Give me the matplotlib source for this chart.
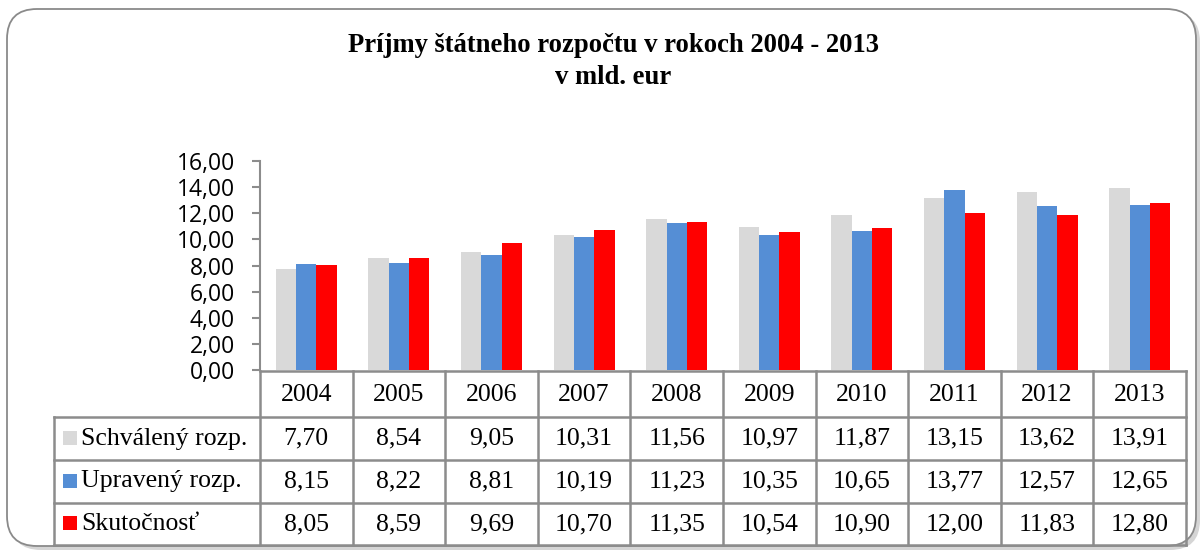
import matplotlib
matplotlib.use("Agg")
import matplotlib.pyplot as plt
from matplotlib.patches import FancyBboxPatch, Rectangle
import numpy as np

years = ["2004", "2005", "2006", "2007", "2008", "2009", "2010", "2011", "2012", "2013"]
series_names = ["Schválený rozp.", "Upravený rozp.", "Skutočnosť"]
schvaleny = [7.70, 8.54, 9.05, 10.31, 11.56, 10.97, 11.87, 13.15, 13.62, 13.91]
upraveny = [8.15, 8.22, 8.81, 10.19, 11.23, 10.35, 10.65, 13.77, 12.57, 12.65]
skutocnost = [8.05, 8.59, 9.69, 10.70, 11.35, 10.54, 10.90, 12.00, 11.83, 12.80]
yticks = [0, 2, 4, 6, 8, 10, 12, 14, 16]
title_lines = ["Príjmy štátneho rozpočtu v rokoch 2004 - 2013", "v mld. eur"]

colors = ["#D9D9D9", "#558ED5", "#FF0000"]
values = [schvaleny, upraveny, skutocnost]

W, H = 1203, 551
fig = plt.figure(figsize=(W / 100, H / 100), dpi=100)

# background / frame overlay axes in pixel coords
bg = fig.add_axes([0, 0, 1, 1])
bg.set_xlim(0, W)
bg.set_ylim(H, 0)
bg.axis("off")
shadow = FancyBboxPatch((11, 12), 1189, 538, boxstyle="round,pad=0,rounding_size=30",
                        fc="#c4c4c4", ec="none", alpha=0.7, zorder=0)
bg.add_patch(shadow)
frame = FancyBboxPatch((7, 9), 1189, 537, boxstyle="round,pad=0,rounding_size=30",
                       fc="white", ec="#8a8a8a", lw=1.3, zorder=1)
bg.add_patch(frame)

bg.text(613, 45, title_lines[0], ha="center", va="center", fontsize=19.2, fontweight="bold",
        family="Liberation Serif", zorder=5)
bg.text(613, 77, title_lines[1], ha="center", va="center", fontsize=19.2, fontweight="bold",
        family="Liberation Serif", zorder=5)

# plot axes
x0, x1 = 260, 1186
ytop, ybot = 161, 370
ax = fig.add_axes([x0 / W, 1 - ybot / H, (x1 - x0) / W, (ybot - ytop) / H])
ax.patch.set_alpha(0)
n = len(years)
x = np.arange(n)
bw = 0.22
for i, (vals, c) in enumerate(zip(values, colors)):
    ax.bar(x + (i - 1) * bw, vals, width=bw, color=c, zorder=3)
ax.set_xlim(-0.5, n - 0.5)
ax.set_ylim(0, 16)
ax.set_yticks(yticks)
ax.set_yticklabels([f"{v:.2f}".replace(".", ",") for v in yticks],
                   fontsize=16.5, family="Open Sans")
ax.set_xticks([])
for s in ["top", "right", "bottom"]:
    ax.spines[s].set_visible(False)
ax.spines["left"].set_color("#8c8c8c")
ax.spines["left"].set_linewidth(1.5)
ax.tick_params(axis="y", length=6, color="#8c8c8c", width=1.5, pad=12)

# data table
col_w = (x1 - x0) / n
row_edges = [371, 417, 460, 503, 545]
lx = 54
lc = "#8c8c8c"
lw = 1.8
bg.plot([x0, x1], [row_edges[0], row_edges[0]], color=lc, lw=lw, zorder=4)
for y in row_edges[1:]:
    bg.plot([lx, x1], [y, y], color=lc, lw=lw, zorder=4)
for j in range(n + 1):
    xx = x0 + j * col_w
    bg.plot([xx, xx], [row_edges[0], row_edges[-1]], color=lc, lw=lw, zorder=4)
bg.plot([lx, lx], [row_edges[1], row_edges[-1]], color=lc, lw=lw, zorder=4)

tfont = dict(family="Liberation Serif", fontsize=18.5, zorder=5)
for j, yr in enumerate(years):
    cx = x0 + (j + 0.5) * col_w
    bg.text(cx, (row_edges[0] + row_edges[1]) / 2 + 1, yr, ha="center", va="center", **tfont)
for r, (name, vals, c) in enumerate(zip(series_names, values, colors)):
    cy = (row_edges[r + 1] + row_edges[r + 2]) / 2
    bg.add_patch(Rectangle((63, cy - 8), 14, 14, fc=c, ec="none", zorder=5))
    bg.text(81, cy, name, ha="left", va="center", **tfont)
    for j, v in enumerate(vals):
        cx = x0 + (j + 0.5) * col_w
        bg.text(cx, cy, f"{v:.2f}".replace(".", ","), ha="center", va="center", **tfont)

fig.savefig("out.png", dpi=100)
